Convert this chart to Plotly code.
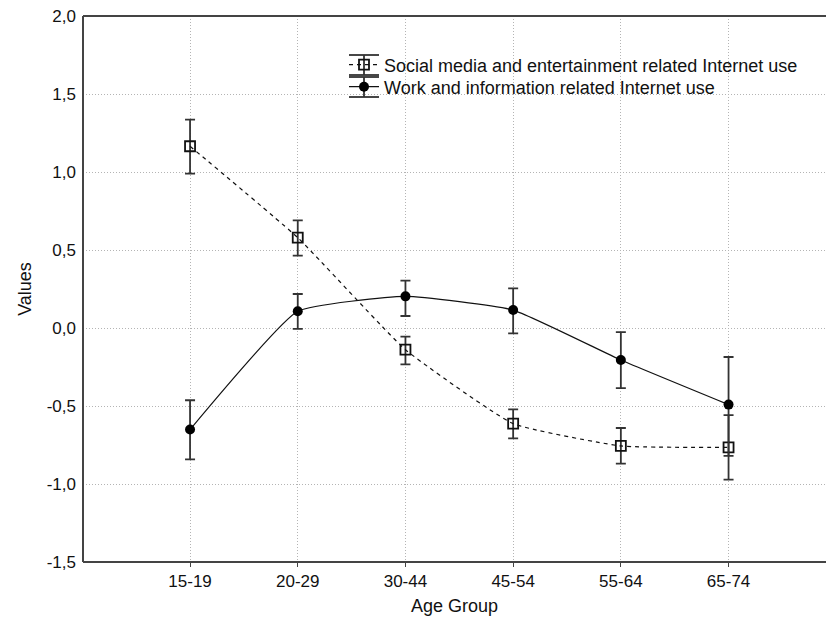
import plotly.graph_objects as go

age_groups = ["15-19", "20-29", "30-44", "45-54", "55-64", "65-74"]

social_mean = [1.165, 0.579, -0.139, -0.613, -0.756, -0.765]
social_upper = [1.336, 0.690, -0.055, -0.521, -0.641, -0.558]
social_lower = [0.990, 0.464, -0.233, -0.707, -0.869, -0.972]

work_mean = [-0.651, 0.107, 0.203, 0.115, -0.205, -0.491]
work_upper = [-0.463, 0.218, 0.304, 0.254, -0.026, -0.186]
work_lower = [-0.842, -0.006, 0.077, -0.034, -0.385, -0.820]

y_ticks = [-1.5, -1.0, -0.5, 0.0, 0.5, 1.0, 1.5, 2.0]
y_ticktext = ["-1,5", "-1,0", "-0,5", "0,0", "0,5", "1,0", "1,5", "2,0"]

x_idx = list(range(len(age_groups)))
ink = "#111111"
bar_ink = "#333333"
axis_ink = "#444444"
font_family = "Liberation Sans, Arial, sans-serif"

# layout geometry (body margin removed in post_script)
W, H = 826, 623
ML, MR, MT, MB = 83, 0, 16, 61
PW, PH = W - ML - MR, H - MT - MB
X_RANGE = [-0.994, -0.994 + PW / 107.7]


def px_x(px):
    return (px - ML) / PW


def px_y(py):
    return 1 - (py - MT) / PH


def err(mean, up, lo):
    return dict(
        type="data",
        symmetric=False,
        array=[u - m for u, m in zip(up, mean)],
        arrayminus=[m - l for m, l in zip(mean, lo)],
        color=bar_ink,
        thickness=1.8,
        width=5,
    )


fig = go.Figure()
fig.add_trace(go.Scatter(
    x=x_idx, y=social_mean, mode="lines+markers",
    name="Social media and entertainment related Internet use",
    line=dict(color=ink, width=1.2, dash="4px,4px", shape="spline", smoothing=0.4),
    marker=dict(symbol="square-open", size=10, color=ink, line=dict(width=1.8, color=ink)),
    error_y=err(social_mean, social_upper, social_lower),
    legend="legend",
))
fig.add_trace(go.Scatter(
    x=x_idx, y=work_mean, mode="lines+markers",
    name="Work and information related Internet use",
    line=dict(color=ink, width=1.2, shape="spline", smoothing=0.4),
    marker=dict(symbol="circle", size=10, color="#000000"),
    error_y=err(work_mean, work_upper, work_lower),
    legend="legend2",
))

# legend rows (page pixels)
leg_text_x = 384
rows_y = [65, 87]
sym_cx = leg_text_x - 20

leg_common = dict(
    xanchor="left", yanchor="middle",
    bgcolor="rgba(0,0,0,0)", borderwidth=0,
    font=dict(size=18, color="#111111", family=font_family),
    itemwidth=30,
)

frame = dict(color=axis_ink, width=2)
shapes = [
    # plot frame: top, bottom and left lines (no right line, as in the original)
    dict(type="line", xref="paper", yref="paper", x0=0, x1=1, y0=1, y1=1, line=frame),
    dict(type="line", xref="paper", yref="paper", x0=0, x1=1, y0=0, y1=0, line=frame),
    dict(type="line", xref="paper", yref="paper", x0=0, x1=0, y0=0, y1=1, line=frame),
]
for ry in rows_y:
    # error-bar glyph in the legend
    shapes.append(dict(type="line", xref="paper", yref="paper",
                       x0=px_x(sym_cx), x1=px_x(sym_cx), y0=px_y(ry - 10), y1=px_y(ry + 10),
                       line=dict(color=bar_ink, width=1.8), layer="below"))
    for dy in (-10, 10):
        shapes.append(dict(type="line", xref="paper", yref="paper",
                           x0=px_x(sym_cx - 15), x1=px_x(sym_cx + 15),
                           y0=px_y(ry + dy), y1=px_y(ry + dy),
                           line=dict(color=bar_ink, width=1.8), layer="below"))

fig.update_layout(
    width=W, height=H,
    margin=dict(l=ML, r=MR, t=MT, b=MB, autoexpand=False),
    paper_bgcolor="white", plot_bgcolor="white",
    font=dict(family=font_family, size=17, color="#111111"),
    showlegend=True,
    legend=dict(x=px_x(leg_text_x - 40), y=px_y(rows_y[0]), **leg_common),
    legend2=dict(x=px_x(leg_text_x - 40), y=px_y(rows_y[1]), **leg_common),
    shapes=shapes,
)
fig.update_xaxes(
    range=X_RANGE,
    tickmode="array", tickvals=x_idx, ticktext=age_groups,
    showgrid=True, gridcolor="#b4b4b4", griddash="1px,2px", gridwidth=1,
    showline=False,
    ticks="outside", ticklen=4, tickcolor=axis_ink,
    zeroline=False,
    title=dict(text="Age Group", standoff=8, font=dict(size=18)),
    tickfont=dict(size=17),
)
fig.update_yaxes(
    range=[-1.5, 2.0001],
    tickmode="array", tickvals=y_ticks, ticktext=y_ticktext,
    showgrid=True, gridcolor="#b4b4b4", griddash="1px,2px", gridwidth=1,
    showline=False,
    ticks="", zeroline=False, ticklabelstandoff=6,
    title=dict(text="Values", standoff=10, font=dict(size=18)),
    tickfont=dict(size=17),
)

fig.write_html(
    "out.html",
    config={"displayModeBar": False},
    post_script="document.body.style.margin='0';document.body.style.overflow='hidden';",
)
